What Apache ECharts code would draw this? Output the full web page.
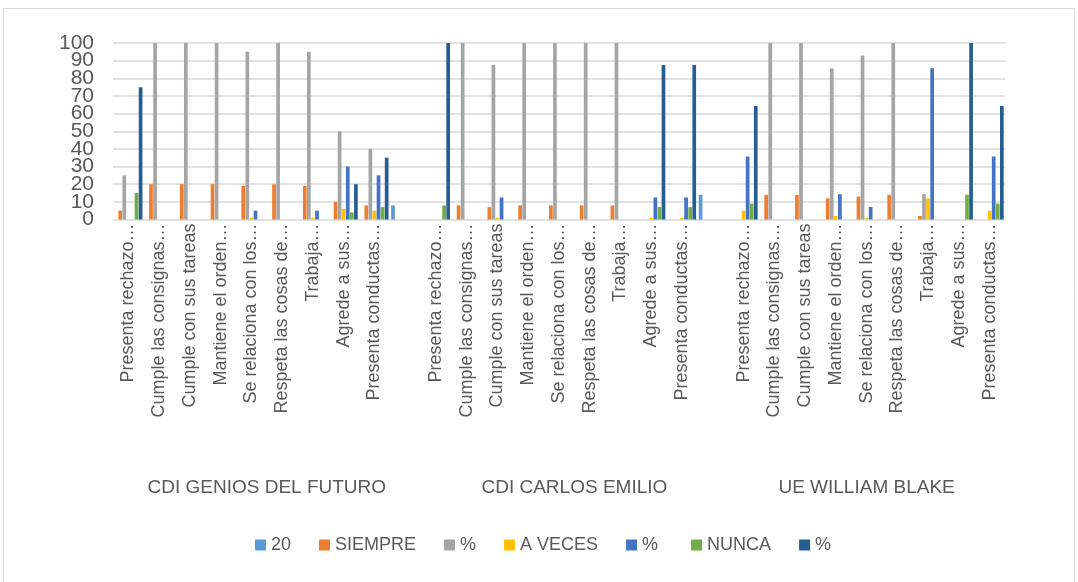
<!DOCTYPE html>
<html><head><meta charset="utf-8">
<script src="https://cdn.jsdelivr.net/npm/echarts@6/dist/echarts.min.js"></script>
<style>html,body{margin:0;padding:0;background:#fff}#c{width:1078px;height:582px}</style>
</head><body><div id="c"></div>
<script>
const items = ['Presenta rechazo…','Cumple las consignas…','Cumple con sus tareas','Mantiene el orden…','Se relaciona con los…','Respeta las cosas de…','Trabaja…','Agrede a sus…','Presenta conductas…'];
const groups = ['CDI GENIOS DEL FUTURO','CDI CARLOS EMILIO','UE WILLIAM BLAKE'];
const categories = [...items, '', ...items, '', ...items];
const groupCenters = [5, 15, 24.5];
const yTicks = [0,10,20,30,40,50,60,70,80,90,100];

const seriesNames = ['20','SIEMPRE','%','A VECES','%','NUNCA','%'];
const s20     = [0,0,0,0,0,0,0,0,0,8,   0,0,0,0,0,0,0,0,0,14,   0,0,0,0,0,0,0,0,0];
const siempre = [5,20,20,20,19,20,19,10,8,0,   0,8,7,8,8,8,8,0,0,0,   0,14,14,12,13,14,2,0,0];
const pctS    = [25,100,100,100,95,100,95,50,40,0,   0,100,87.5,100,100,100,100,0,0,0,   0,100,100,85.7,92.9,100,14.3,0,0];
const aveces  = [0,0,0,0,1,0,1,6,5,0,   0,0,1,0,0,0,0,1,1,0,   5,0,0,2,1,0,12,0,5];
const pctA    = [0,0,0,0,5,0,5,30,25,0,   0,0,12.5,0,0,0,0,12.5,12.5,0,   35.7,0,0,14.3,7.1,0,85.7,0,35.7];
const nunca   = [15,0,0,0,0,0,0,4,7,0,   8,0,0,0,0,0,0,7,7,0,   9,0,0,0,0,0,0,14,9];
const pctN    = [75,0,0,0,0,0,0,20,35,0,   100,0,0,0,0,0,0,87.5,87.5,0,   64.3,0,0,0,0,0,0,100,64.3];
const colors = ['#5B9BD5','#ED7D31','#A5A5A5','#FFC000','#4472C4','#70AD47','#255E91'];
const allData = [s20, siempre, pctS, aveces, pctA, nunca, pctN];

const FONT = 'Liberation Sans';
const uniq = (n, i) => n + (i === 4 ? ' ' : i === 6 ? '  ' : '');
const chart = echarts.init(document.getElementById('c'));
chart.setOption({
  animation: false,
  color: colors,
  textStyle: { fontFamily: FONT },
  graphic: [{ type: 'rect', shape: { x: 3.5, y: 8.5, width: 1071, height: 600 }, style: { fill: 'none', stroke: '#D9D9D9', lineWidth: 1 } }],
  grid: { left: 113, right: 73, top: 43, bottom: 362.5 },
  legend: {
    top: 531, left: 250, itemWidth: 11, itemHeight: 11, itemGap: 28, icon: 'rect',
    textStyle: { fontSize: 18, color: '#595959', fontFamily: FONT },
    data: seriesNames.map((n, i) => ({ name: uniq(n, i) }))
  },
  xAxis: [{
    type: 'category', data: categories, position: 'bottom',
    axisLine: { show: false }, axisTick: { show: false },
    axisLabel: { interval: 0, rotate: 90, fontSize: 18, color: '#595959', margin: 4, fontFamily: FONT }
  }, {
    type: 'value', min: 0, max: 29, interval: 0.5, position: 'bottom', offset: 259,
    axisLine: { show: false }, axisTick: { show: false }, splitLine: { show: false },
    axisLabel: { fontSize: 19, color: '#595959', margin: 0, fontFamily: FONT, showMinLabel: true, showMaxLabel: true, hideOverlap: false,
      formatter: v => { const k = groupCenters.indexOf(v); return k >= 0 ? groups[k] : ''; } }
  }],
  yAxis: [{
    type: 'value', min: yTicks[0], max: yTicks[yTicks.length - 1], interval: 10,
    axisLine: { show: false }, axisTick: { show: false }, axisLabel: { show: false },
    splitLine: { lineStyle: { color: '#D9D9D9', width: 1.5 } }
  }, {
    type: 'category', data: yTicks.map(String), boundaryGap: false, position: 'left',
    axisLine: { show: false }, axisTick: { show: false }, splitLine: { show: false },
    axisLabel: { interval: 0, fontSize: 21, color: '#595959', margin: 19, fontFamily: FONT }
  }],
  series: allData.map((d, i) => ({
    name: uniq(seriesNames[i], i),
    type: 'bar', data: d, xAxisIndex: 0, yAxisIndex: 0,
    barWidth: 3.7, barGap: '10%',
    itemStyle: { color: colors[i] }
  }))
});
</script></body></html>
